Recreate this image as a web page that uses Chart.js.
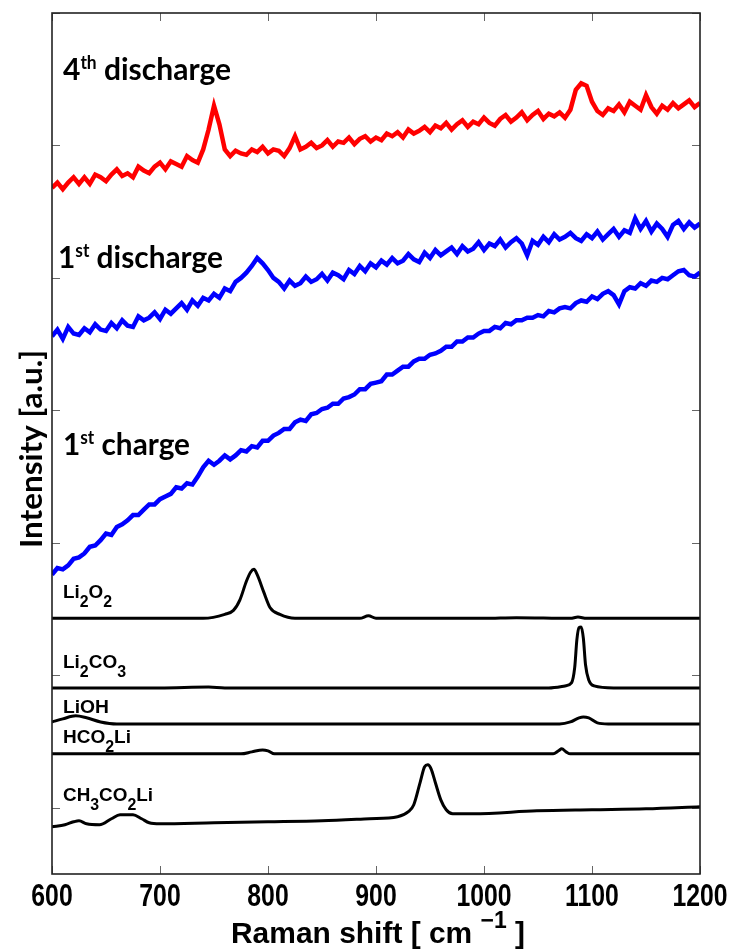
<!DOCTYPE html>
<html lang="en">
<head>
  <meta charset="utf-8" />
  <title>Raman spectra</title>
  <script src="https://cdn.jsdelivr.net/npm/chart.js@4.4.1/dist/chart.umd.min.js"></script>
  <style>
    html, body { margin: 0; padding: 0; background: #fff; }
    .chart-wrap { position: relative; width: 738px; height: 951px; }
  </style>
</head>
<body>
  <div class="chart-wrap">
    <canvas id="chart" aria-label="Raman spectra of cycled electrode and lithium reference compounds"></canvas>
  </div>
  <script>
    // Raman shift (cm-1) for the measured spectra
    const shift = [
      600, 605, 610, 615, 620, 625, 630, 635, 640, 645,
      650, 655, 660, 665, 670, 675, 680, 685, 690, 695,
      700, 705, 710, 715, 720, 725, 730, 735, 740, 745,
      750, 755, 760, 765, 770, 775, 780, 785, 790, 795,
      800, 805, 810, 815, 820, 825, 830, 835, 840, 845,
      850, 855, 860, 865, 870, 875, 880, 885, 890, 895,
      900, 905, 910, 915, 920, 925, 930, 935, 940, 945,
      950, 955, 960, 965, 970, 975, 980, 985, 990, 995,
      1000, 1005, 1010, 1015, 1020, 1025, 1030, 1035, 1040, 1045,
      1050, 1055, 1060, 1065, 1070, 1075, 1080, 1085, 1090, 1095,
      1100, 1105, 1110, 1115, 1120, 1125, 1130, 1135, 1140, 1145,
      1150, 1155, 1160, 1165, 1170, 1175, 1180, 1185, 1190, 1195,
      1200,
    ];

    // intensities (a.u., stacked with offsets as in the figure)
    const discharge4 = [
      468, 472, 467, 472, 476, 471, 476, 471, 478, 476,
      473, 478, 482, 477, 479, 476, 484, 481, 479, 484,
      487, 482, 488, 486, 484, 492, 489, 487, 497, 512,
      530, 516, 497, 492, 496, 494, 493, 497, 495, 499,
      494, 497, 496, 492, 498, 507, 497, 499, 502, 498,
      500, 504, 499, 503, 502, 506, 501, 505, 507, 503,
      506, 504, 509, 507, 510, 506, 512, 509, 511, 514,
      510, 515, 513, 517, 512, 516, 519, 514, 518, 516,
      521, 517, 515, 520, 523, 518, 521, 525, 519, 523,
      526, 520, 524, 522, 525, 521, 527, 542, 547, 545,
      533, 526, 523, 528, 526, 531, 525, 533, 530, 527,
      538, 529, 524, 530, 527, 532, 528, 531, 534, 529,
      532,
    ];
    const discharge1 = [
      356, 361, 354, 363, 358, 357, 362, 359, 365, 361,
      360, 366, 362, 368, 364, 363, 371, 368, 370, 374,
      369, 376, 373, 377, 381, 376, 383, 379, 385, 383,
      388, 385, 392, 390, 397, 400, 404, 409, 415, 411,
      406, 400, 397, 392, 398, 394, 396, 401, 397, 399,
      403, 398, 404, 402, 399, 406, 403, 409, 405, 411,
      408, 413, 410, 415, 411, 413, 418, 414, 412, 419,
      415, 421, 417, 420, 423, 418, 424, 420, 422, 427,
      421, 426, 424, 429, 423, 427, 430, 426, 417, 428,
      425, 431, 427, 433, 429, 431, 434, 430, 428, 433,
      430, 435, 429, 433, 437, 431, 436, 434, 445, 437,
      443, 435, 441, 437, 431, 440, 443, 437, 442, 438,
      441,
    ];
    const charge1 = [
      176, 181, 180, 183, 188, 189, 192, 197, 198, 202,
      207, 206, 212, 214, 217, 221, 221, 225, 229, 229,
      233, 235, 237, 242, 241, 245, 244, 250, 257, 262,
      259, 262, 266, 263, 266, 270, 269, 273, 272, 277,
      277, 281, 283, 286, 286, 291, 293, 292, 297, 298,
      301, 302, 305, 305, 309, 310, 312, 316, 316, 320,
      321, 322, 327, 327, 330, 333, 333, 337, 339, 339,
      342, 343, 345, 348, 348, 352, 352, 355, 355, 358,
      360, 360, 363, 362, 366, 365, 368, 368, 370, 370,
      372, 371, 375, 374, 377, 378, 377, 381, 383, 382,
      386, 384, 388, 390, 387, 380, 390, 393, 392, 396,
      394, 398, 397, 400, 399, 402, 405, 406, 402, 401,
      404,
    ];

    // reference compounds
    const li2o2Shift = [600, 700, 740, 760, 768, 774, 780, 784, 787, 790, 796, 802, 811, 825, 850, 885, 893, 900, 1000, 1030, 1080, 1087, 1095, 1200];
    const li2o2 = [143, 143, 143, 146, 149, 157, 171, 178, 180, 176, 163, 151, 146, 143, 143, 143, 145, 143, 143, 143.5, 143, 144, 143, 143];

    const li2co3Shift = [600, 700, 745, 760, 1060, 1075, 1081, 1084, 1086, 1088, 1090, 1092, 1094, 1097, 1102, 1120, 1200];
    const li2co3 = [90.5, 90.5, 91.2, 90.5, 90.5, 92, 94.3, 106, 127, 136, 136.5, 128, 108, 96.5, 92, 90.5, 90.5];

    const liohShift = [600, 610, 622, 632, 645, 660, 1070, 1080, 1088, 1092, 1097, 1105, 1115, 1200];
    const lioh = [64.8, 67.1, 69.4, 67.9, 64.8, 63.3, 63.3, 64.8, 67.9, 68.6, 67.9, 64.1, 63.3, 63.3];

    const hco2liShift = [600, 775, 785, 795, 800, 806, 1064, 1069, 1072, 1076, 1080, 1200];
    const hco2li = [40.7, 40.7, 42.2, 43.7, 43, 40.7, 40.7, 43, 44.5, 42.2, 40.7, 40.7];

    const ch3co2liShift = [600, 612, 620, 625, 632, 644, 655, 663, 675, 683, 690, 700, 750, 800, 850, 894, 920, 930, 935, 941, 945, 948, 951, 955, 960, 965, 971, 990, 1049, 1100, 1150, 1200];
    const ch3co2li = [-14.3, -12.8, -10.6, -9.8, -12.1, -12.8, -8.3, -5.3, -5.3, -8.3, -11.3, -12.1, -11.3, -10.6, -9.8, -8.3, -6.8, -3.0, 2.3, 19.6, 30.9, 32.4, 29.4, 18.9, 6.0, -1.5, -4.5, -4.5, -2.3, -1.5, -0.8, 0.8];

    const xTicks = [600, 700, 800, 900, 1000, 1100, 1200];
    const xTickLabels = ["600", "700", "800", "900", "1000", "1100", "1200"];
    const yTicks = [0, 100, 200, 300, 400, 500, 600];

    const pts = (xs, ys) => xs.map((x, i) => ({ x, y: ys[i] }));

    const measured = (label, ys, color) => ({
      label,
      data: pts(shift, ys),
      borderColor: color,
      borderWidth: 4.5,
      pointRadius: 0,
      tension: 0,
    });
    const reference = (label, xs, ys) => ({
      label,
      data: pts(xs, ys),
      borderColor: "#000",
      borderWidth: 3,
      pointRadius: 0,
      cubicInterpolationMode: "monotone",
    });

    const datasets = [
      reference("CH3CO2Li", ch3co2liShift, ch3co2li),
      reference("HCO2Li", hco2liShift, hco2li),
      reference("LiOH", liohShift, lioh),
      reference("Li2CO3", li2co3Shift, li2co3),
      reference("Li2O2", li2o2Shift, li2o2),
      measured("1st charge", charge1, "#0000ff"),
      measured("1st discharge", discharge1, "#0000ff"),
      measured("4th discharge", discharge4, "#ff0000"),
    ];

    const CALIBRI = "Lato, 'Open Sans', sans-serif";
    const ARIAL = "'Liberation Sans', Arial, sans-serif";

    // draws a run of text pieces (sub/superscripts), squeezed by sx or to a given width
    function drawRich(ctx, x, y, parts, family, width, angle, align) {
      ctx.save();
      let natural = 0;
      parts.forEach((p) => {
        ctx.font = `bold ${p.size}px ${family}`;
        natural += ctx.measureText(p.text).width;
      });
      const sx = width > 0 ? width / natural : -width || 1;
      ctx.translate(x, y);
      if (angle) ctx.rotate(angle);
      ctx.scale(sx, 1);
      ctx.fillStyle = "#000";
      ctx.textBaseline = "alphabetic";
      ctx.textAlign = "left";
      let cx = align === "center" ? -natural / 2 : 0;
      parts.forEach((p) => {
        ctx.font = `bold ${p.size}px ${family}`;
        ctx.fillText(p.text, cx, p.dy || 0);
        cx += ctx.measureText(p.text).width;
      });
      ctx.restore();
    }

    const n = (text) => ({ text, size: 19 });
    const sub = (text) => ({ text, size: 16, dy: 9 });

    const annotations = [
      { x: 63, y: 80, w: 168, family: CALIBRI, parts: [{ text: "4", size: 31 }, { text: "th", size: 18, dy: -11 }, { text: " discharge", size: 31 }] },
      { x: 58, y: 268, w: 165, family: CALIBRI, parts: [{ text: "1", size: 31 }, { text: "st", size: 18, dy: -11 }, { text: " discharge", size: 31 }] },
      { x: 63, y: 455, w: 127, family: CALIBRI, parts: [{ text: "1", size: 31 }, { text: "st", size: 18, dy: -11 }, { text: " charge", size: 31 }] },
      { x: 63, y: 598, w: 49, family: ARIAL, parts: [n("Li"), sub("2"), n("O"), sub("2")] },
      { x: 63, y: 668, w: 63, family: ARIAL, parts: [n("Li"), sub("2"), n("CO"), sub("3")] },
      { x: 63, y: 713, w: 46, family: ARIAL, parts: [n("LiOH")] },
      { x: 63, y: 743, w: 68, family: ARIAL, parts: [n("HCO"), sub("2"), n("Li")] },
      { x: 63, y: 801, w: 90, family: ARIAL, parts: [n("CH"), sub("3"), n("CO"), sub("2"), n("Li")] },
    ];

    const framePlugin = {
      id: "frame",
      beforeDatasetsDraw(chart) {
        const { ctx, chartArea: a, scales } = chart;
        ctx.save();
        ctx.strokeStyle = "#666";
        ctx.lineWidth = 1;
        ctx.beginPath();
        xTicks.forEach((v) => {
          const px = Math.round(scales.x.getPixelForValue(v)) + 0.5;
          ctx.moveTo(px, a.bottom); ctx.lineTo(px, a.bottom - 8);
          ctx.moveTo(px, a.top); ctx.lineTo(px, a.top + 8);
        });
        yTicks.forEach((v) => {
          const py = Math.round(scales.y.getPixelForValue(v)) + 0.5;
          ctx.moveTo(a.left, py); ctx.lineTo(a.left + 8, py);
          ctx.moveTo(a.right, py); ctx.lineTo(a.right - 8, py);
        });
        ctx.stroke();
        ctx.restore();
      },
      afterDatasetsDraw(chart) {
        const { ctx, chartArea: a, scales } = chart;
        ctx.save();
        ctx.strokeStyle = "#222";
        ctx.lineWidth = 1.6;
        ctx.strokeRect(a.left, a.top, a.right - a.left, a.bottom - a.top);
        ctx.restore();

        annotations.forEach((t) => drawRich(ctx, t.x, t.y, t.parts, t.family, t.w));

        // x tick labels (narrow bold, as in the original)
        xTicks.forEach((v, i) => {
          drawRich(ctx, scales.x.getPixelForValue(v), a.bottom + 32, [{ text: xTickLabels[i], size: 31 }], ARIAL, -0.8, 0, "center");
        });

        // axis titles
        drawRich(ctx, 42, 548, [{ text: "Intensity [a.u.]", size: 30 }], CALIBRI, 198, -Math.PI / 2);
        drawRich(ctx, 231, 943, [
          { text: "Raman shift [ cm ", size: 30 },
          { text: "\u22121", size: 23, dy: -15 },
          { text: " ]", size: 30 },
        ], ARIAL, 294);
      },
    };

    new Chart(document.getElementById("chart"), {
      type: "line",
      data: { datasets },
      plugins: [framePlugin],
      options: {
        responsive: true,
        maintainAspectRatio: false,
        animation: false,
        layout: { padding: { top: 13, right: 38, left: 0, bottom: 0 } },
        plugins: { legend: { display: false }, tooltip: { enabled: false } },
        scales: {
          x: {
            type: "linear",
            min: 600,
            max: 1200,
            afterBuildTicks: (scale) => { scale.ticks = xTicks.map((value) => ({ value })); },
            afterFit: (scale) => { scale.height = 77; },
            grid: { display: false, drawTicks: false },
            border: { display: false },
            ticks: { display: false },
          },
          y: {
            min: -50,
            max: 600,
            afterBuildTicks: (scale) => { scale.ticks = yTicks.map((value) => ({ value })); },
            afterFit: (scale) => { scale.width = 52; },
            grid: { display: false, drawTicks: false },
            border: { display: false },
            ticks: { display: false },
          },
        },
      },
    });
  </script>
</body>
</html>
